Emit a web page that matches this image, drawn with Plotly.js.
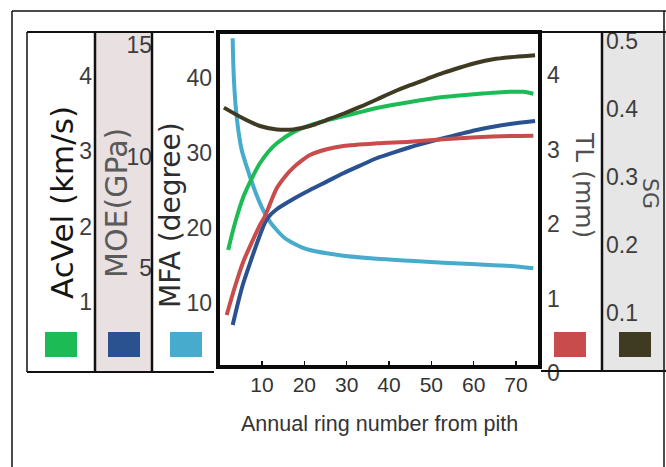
<!DOCTYPE html>
<html>
<head>
<meta charset="utf-8">
<script src="https://cdn.plot.ly/plotly-3.0.1.min.js"></script>
<style>html,body{margin:0;padding:0;background:#fff;}</style>
</head>
<body>
<div id="chart" style="width:666px;height:467px;"></div>
<script>
// ---- Data ----
const sgRings = [1.0, 5.6, 9.5, 13.5, 17.4, 21.3, 25.3, 29.2, 33.1, 37.1, 41.0, 45.0, 48.9, 52.8, 56.8, 60.7, 64.6, 68.6, 72.5, 74.5];
const sgValues = [0.402, 0.386, 0.375, 0.370, 0.370, 0.375, 0.384, 0.393, 0.403, 0.414, 0.425, 0.435, 0.444, 0.453, 0.461, 0.468, 0.473, 0.476, 0.478, 0.479];

const acvelRings = [2.0, 3.6, 5.6, 7.6, 9.5, 11.5, 13.5, 17.4, 21.3, 25.3, 29.2, 33.1, 37.1, 45.0, 52.8, 60.7, 68.6, 71.7, 74.1];
const acvelValues = [1.69, 2.045, 2.398, 2.642, 2.841, 2.995, 3.107, 3.255, 3.345, 3.410, 3.465, 3.520, 3.575, 3.655, 3.720, 3.760, 3.790, 3.790, 3.765];

const tlRings = [1.65, 3.6, 5.57, 7.56, 9.52, 10.7, 11.48, 13.47, 15.42, 17.39, 19.37, 21.33, 25.28, 29.2, 37.09, 44.96, 52.82, 60.71, 68.58, 74.09];
const tlValues = [0.779, 1.158, 1.494, 1.749, 1.987, 2.107, 2.211, 2.479, 2.635, 2.756, 2.850, 2.926, 3.003, 3.047, 3.083, 3.105, 3.137, 3.164, 3.181, 3.185];

const moeRings = [3.07, 4.39, 5.57, 7.56, 9.52, 10.7, 11.48, 13.47, 17.39, 21.33, 25.28, 29.2, 33.13, 37.09, 41.01, 44.96, 48.9, 52.82, 56.8, 60.71, 64.6, 68.58, 74.5];
const moeValues = [2.444, 3.489, 4.314, 5.435, 6.480, 7.031, 7.274, 7.632, 8.094, 8.498, 8.870, 9.247, 9.587, 9.919, 10.170, 10.413, 10.619, 10.816, 11.009, 11.188, 11.336, 11.457, 11.592];

const mfaRings = [3.07, 3.21, 3.45, 3.85, 4.39, 5.2, 6.38, 7.56, 9.52, 11.48, 13.47, 15.42, 17.39, 19.37, 21.33, 25.28, 29.2, 37.09, 44.96, 52.82, 60.71, 68.58, 74.09];
const mfaValues = [45.29, 41.96, 38.84, 35.73, 33.07, 30.40, 28.17, 26.17, 23.29, 21.16, 19.73, 18.63, 17.96, 17.43, 17.07, 16.63, 16.31, 15.91, 15.64, 15.37, 15.16, 14.93, 14.63];

const xTicks = [10, 20, 30, 40, 50, 60, 70];
const acvelTicks = [1, 2, 3, 4];
const moeTicks = [5, 10, 15];
const mfaTicks = [10, 20, 30, 40];
const tlTicks = [0, 1, 2, 3, 4];
const sgTicks = [0.1, 0.2, 0.3, 0.4, 0.5];

const titles = {
  x: 'Annual ring number from pith',
  acvel: 'AcVel (km/s)',
  moe: 'MOE(GPa)',
  mfa: 'MFA (degree)',
  tl: 'TL (mm)',
  sg: 'SG'
};

// ---- Styling ----
const colors = {
  acvel: '#1dbb55',
  moe: '#2b5290',
  mfa: '#47abcd',
  tl: '#c94c4c',
  sg: '#3f3b22'
};
const W = 666, H = 467;
const X = px => px / W;
const Y = py => 1 - py / H;
const sans = 'Liberation Sans, Arial, sans-serif';
const wide = 'DejaVu Sans, Liberation Sans, Arial, sans-serif';
const tickFont = {family: sans, size: 23, color: '#3d3d3d'};
const lw = 4;
const sm = 0.8;

const traces = [
  {x: sgRings, y: sgValues, yaxis: 'y5', mode: 'lines', line: {color: colors.sg, width: lw, shape: 'spline', smoothing: sm}, name: 'SG'},
  {x: acvelRings, y: acvelValues, yaxis: 'y2', mode: 'lines', line: {color: colors.acvel, width: lw, shape: 'spline', smoothing: sm}, name: 'AcVel'},
  {x: tlRings, y: tlValues, yaxis: 'y4', mode: 'lines', line: {color: colors.tl, width: lw, shape: 'spline', smoothing: sm}, name: 'TL'},
  {x: moeRings, y: moeValues, yaxis: 'y3', mode: 'lines', line: {color: colors.moe, width: lw, shape: 'spline', smoothing: sm}, name: 'MOE'},
  {x: mfaRings, y: mfaValues, yaxis: 'y', mode: 'lines', line: {color: colors.mfa, width: lw, shape: 'spline', smoothing: sm}, name: 'MFA'}
];

const mainDomain = [Y(367), Y(32)];
const baseY = {showgrid: false, zeroline: false, showline: false, ticks: '', tickfont: tickFont, fixedrange: true};

function line(x0, y0, x1, y1, w, c) {
  return {type: 'line', xref: 'paper', yref: 'paper', x0: X(x0), y0: Y(y0), x1: X(x1), y1: Y(y1), line: {color: c || '#111', width: w}, layer: 'above'};
}
function rect(x0, y0, x1, y1, fill, layer) {
  return {type: 'rect', xref: 'paper', yref: 'paper', x0: X(x0), y0: Y(y0), x1: X(x1), y1: Y(y1), fillcolor: fill, line: {width: 0}, layer: layer || 'above'};
}

const shapes = [
  // panel backgrounds
  rect(95, 32, 152, 372, '#e9e0e2', 'below'),
  rect(602, 32, 666, 372, '#e6e6e6', 'below'),
  // outer frame
  line(12, 11, 666, 11, 1.5),
  line(12, 11, 12, 467, 1.5),
  line(664, 11, 664, 467, 1.5),
  // left panels
  line(27, 32, 214, 32, 2),
  line(27, 372, 214, 372, 2),
  line(27, 32, 27, 372, 1.5),
  line(95, 32, 95, 372, 2.5),
  line(152, 32, 152, 372, 2.5),
  // right panels
  line(541, 32, 666, 32, 2),
  line(541, 371, 666, 371, 2),
  line(602, 32, 602, 371, 2.5),
  // main frame
  {type: 'rect', xref: 'paper', yref: 'paper', x0: X(218), y0: Y(367), x1: X(540), y1: Y(32), line: {color: '#0a0a0a', width: 4}, layer: 'above'},
  // legend swatches
  rect(45, 332, 77, 357, colors.acvel),
  rect(108, 332, 140, 357, colors.moe),
  rect(170, 332, 202, 357, colors.mfa),
  rect(554, 332, 586, 357, colors.tl),
  rect(619, 332, 651, 357, colors.sg)
];

const annotations = [
  {text: titles.acvel, x: X(62), y: Y(203), textangle: -90, font: {family: wide, size: 31, color: '#151515'}},
  {text: titles.moe, x: X(117), y: Y(203), textangle: -90, font: {family: wide, size: 30, color: '#5a5a5a'}},
  {text: titles.mfa, x: X(171), y: Y(215), textangle: -90, font: {family: wide, size: 28, color: '#2d2d2d'}},
  {text: titles.tl, x: X(585), y: Y(185), textangle: 90, font: {family: wide, size: 25, color: '#505050'}},
  {text: titles.sg, x: X(651), y: Y(193), textangle: 90, font: {family: wide, size: 22, color: '#505050'}},
  {text: titles.x, x: X(379), y: Y(424), font: {family: sans, size: 21.5, color: '#333'}}
].map(a => Object.assign({xref: 'paper', yref: 'paper', showarrow: false, xanchor: 'center', yanchor: 'middle'}, a));

const layout = {
  width: W, height: H,
  margin: {l: 0, r: 0, t: 0, b: 0},
  paper_bgcolor: '#ffffff',
  plot_bgcolor: 'rgba(0,0,0,0)',
  showlegend: false,
  xaxis: {
    domain: [X(218), X(540)], range: [-0.4, 75.67], anchor: 'y',
    tickvals: xTicks, ticks: 'inside', ticklen: 6, tickwidth: 1.5, tickcolor: '#111',
    showgrid: false, zeroline: false, showline: false,
    tickfont: {family: sans, size: 21, color: '#333'}, ticklabelstandoff: 3, fixedrange: true
  },
  yaxis: Object.assign({}, baseY, {domain: mainDomain, range: [1.47, 46.13], tickvals: mfaTicks, anchor: 'x', side: 'left', ticklabelstandoff: 5}),
  yaxis2: Object.assign({}, baseY, {overlaying: 'y', anchor: 'free', position: X(95), side: 'left', range: [0.137, 4.584], tickvals: acvelTicks, ticklabelstandoff: 3}),
  yaxis3: Object.assign({}, baseY, {overlaying: 'y', anchor: 'free', position: X(152), side: 'left', range: [0.56, 15.58], tickvals: moeTicks, ticklabelstandoff: 0}),
  yaxis4: Object.assign({}, baseY, {domain: [Y(373), Y(32)], anchor: 'free', position: X(541), side: 'right', range: [0, 4.577], tickvals: tlTicks, ticklabelstandoff: 5}),
  yaxis5: Object.assign({}, baseY, {overlaying: 'y', anchor: 'free', position: X(602), side: 'right', range: [0.0206, 0.5132], tickvals: sgTicks, tickformat: '.1f', ticklabelstandoff: 3}),
  shapes: shapes,
  annotations: annotations
};

Plotly.newPlot('chart', traces, layout, {displayModeBar: false, staticPlot: true});
</script>
</body>
</html>
